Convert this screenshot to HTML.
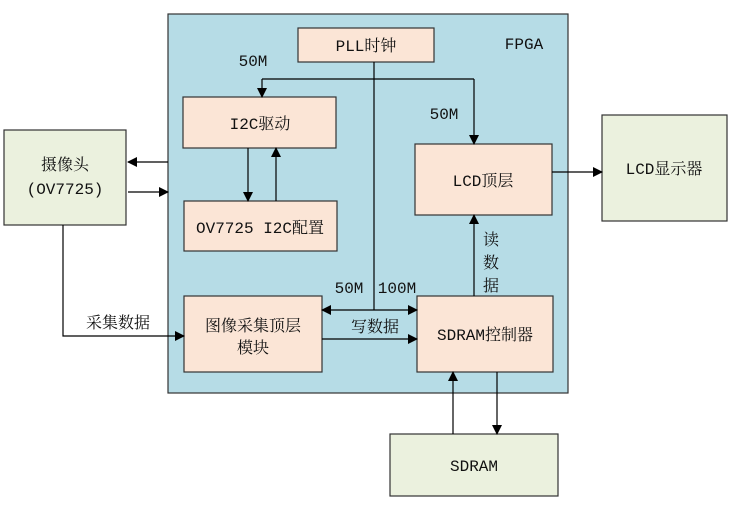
<!DOCTYPE html>
<html><head><meta charset="utf-8"><style>
body{margin:0;background:#fff}
svg text{font-family:"Liberation Mono","Noto Serif CJK SC",monospace;font-size:16px;fill:#111}
</style></head><body>
<svg width="731" height="502" xmlns="http://www.w3.org/2000/svg">
<defs><marker id="a" markerWidth="10" markerHeight="10" refX="9" refY="5" orient="auto" markerUnits="userSpaceOnUse"><path d="M0,0 L10,5 L0,10 z" fill="#000"/></marker></defs>
<g stroke="#333" stroke-width="1.2">
<rect x="168" y="14" width="400" height="379" fill="#b6dce6"/>
<rect x="298" y="28" width="136" height="34" fill="#fbe5d6"/>
<rect x="183" y="97" width="153" height="51" fill="#fbe5d6"/>
<rect x="184" y="201" width="153" height="50" fill="#fbe5d6"/>
<rect x="415" y="144" width="137" height="71" fill="#fbe5d6"/>
<rect x="184" y="296" width="138" height="76" fill="#fbe5d6"/>
<rect x="417" y="296" width="136" height="76" fill="#fbe5d6"/>
<rect x="4" y="130" width="122" height="95" fill="#ebf1de"/>
<rect x="602" y="115" width="125" height="106" fill="#ebf1de"/>
<rect x="390" y="434" width="168" height="62" fill="#ebf1de"/>
</g>
<g stroke="#000" stroke-width="1.2" fill="none">
<path d="M374,62 V310"/>
<path d="M262,79 H474"/>
<path d="M262,79 V97" marker-end="url(#a)"/>
<path d="M474,79 V144" marker-end="url(#a)"/>
<path d="M248,148 V201" marker-end="url(#a)"/>
<path d="M276,201 V148" marker-end="url(#a)"/>
<path d="M168,162 H128" marker-end="url(#a)"/>
<path d="M128,192 H168" marker-end="url(#a)"/>
<path d="M63,225 V336 H184" marker-end="url(#a)"/>
<path d="M322,339 H417" marker-end="url(#a)"/>
<path d="M374,310 H417" marker-end="url(#a)"/>
<path d="M374,310 H322" marker-end="url(#a)"/>
<path d="M474,296 V215" marker-end="url(#a)"/>
<path d="M552,172 H602" marker-end="url(#a)"/>
<path d="M453,434 V372" marker-end="url(#a)"/>
<path d="M497,372 V434" marker-end="url(#a)"/>
</g>
<g text-anchor="middle">
<text x="366" y="51">PLL时钟</text>
<text x="260" y="129">I2C驱动</text>
<text x="260" y="233">OV7725 I2C配置</text>
<text x="483" y="186">LCD顶层</text>
<text x="253" y="331">图像采集顶层</text>
<text x="253" y="353">模块</text>
<text x="485" y="340">SDRAM控制器</text>
<text x="65" y="170">摄像头</text>
<text x="65" y="194">(OV7725)</text>
<text x="664" y="174">LCD显示器</text>
<text x="474" y="471">SDRAM</text>
<text x="524" y="49">FPGA</text>
<text x="253" y="66">50M</text>
<text x="444" y="119">50M</text>
<text x="349" y="293">50M</text>
<text x="397" y="293">100M</text>
<text x="375" y="332">写数据</text>
<text x="118" y="328">采集数据</text>
<text x="491" y="245">读</text>
<text x="491" y="268">数</text>
<text x="491" y="291">据</text>
</g>
</svg>
</body></html>
